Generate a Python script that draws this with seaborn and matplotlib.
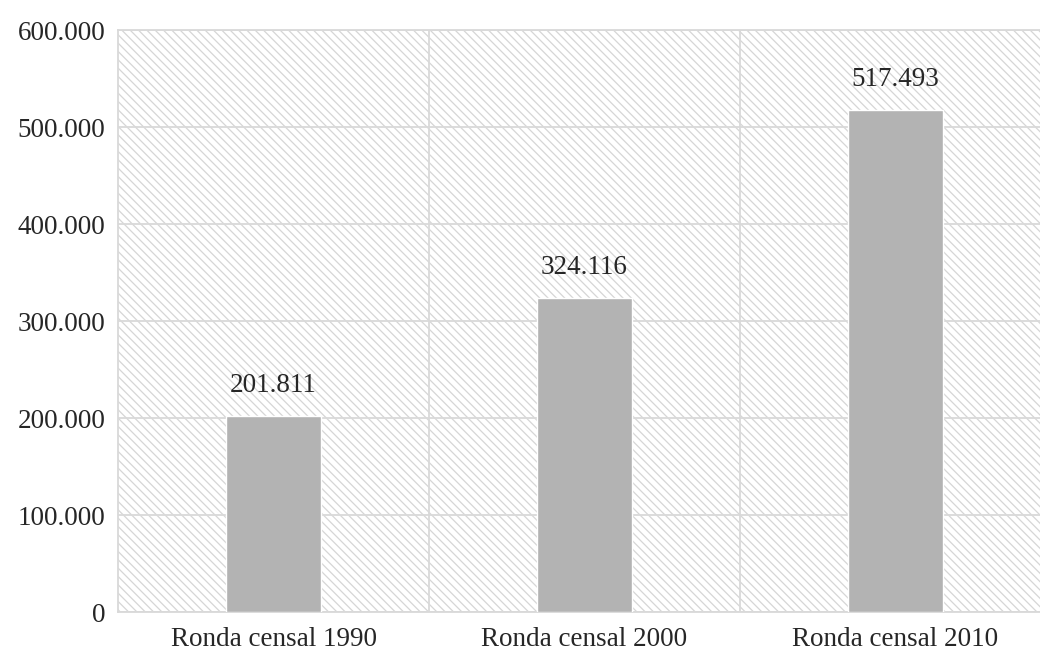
import matplotlib
matplotlib.use('Agg')
import matplotlib.pyplot as plt
from matplotlib.patches import Rectangle
import seaborn as sns
import pandas as pd

# data
categorias = ['Ronda censal 1990', 'Ronda censal 2000', 'Ronda censal 2010']
valores = [201811, 324116, 517493]
yticks = [0, 100000, 200000, 300000, 400000, 500000, 600000]


def miles(v):
    return f'{v:,.0f}'.replace(',', '.')


sns.set_theme(style='white')
plt.rcParams['font.family'] = ['Liberation Serif', 'DejaVu Serif']
plt.rcParams['hatch.linewidth'] = 0.9
plt.rcParams['hatch.color'] = '#d6d6d6'

df = pd.DataFrame({'ronda': categorias, 'valor': valores})

fig = plt.figure(figsize=(10.4, 6.62), dpi=100)
ax = fig.add_axes([0.1135, 0.0755, 0.897, 0.879])

# hatched background
bg = Rectangle((0, 0), 1, 1, transform=ax.transAxes, facecolor='white',
               edgecolor='#d6d6d6', hatch='\\' * 4, lw=0, zorder=0)
ax.add_patch(bg)

sns.barplot(data=df, x='ronda', y='valor', color='#b3b3b3', width=0.305,
            saturation=1, ax=ax, zorder=3)

ax.set_ylim(0, 600000)
ax.set_xlim(-0.5, 2.5)
ax.set_yticks(yticks)
ax.set_yticklabels([miles(v) for v in yticks])
ax.set_xticks([0.5, 1.5], minor=True)
ax.grid(True, axis='y', color='#d9d9d9', lw=1.3, zorder=1)
ax.grid(True, axis='x', which='minor', color='#d9d9d9', lw=1.3, zorder=1)
ax.set_axisbelow(True)

for i, v in enumerate(valores):
    ax.annotate(miles(v), (i, v), xytext=(0, 13), textcoords='offset points',
                ha='center', va='bottom', fontsize=19.5, color='#262626')

ax.set_xlabel('')
ax.set_ylabel('')
ax.tick_params(axis='both', length=0, labelsize=19.5, labelcolor='#262626')
ax.tick_params(axis='y', pad=9)
ax.tick_params(axis='x', pad=11)
for s in ax.spines.values():
    s.set_color('#d9d9d9')
    s.set_linewidth(1.3)

fig.savefig('out.png', dpi=100)
